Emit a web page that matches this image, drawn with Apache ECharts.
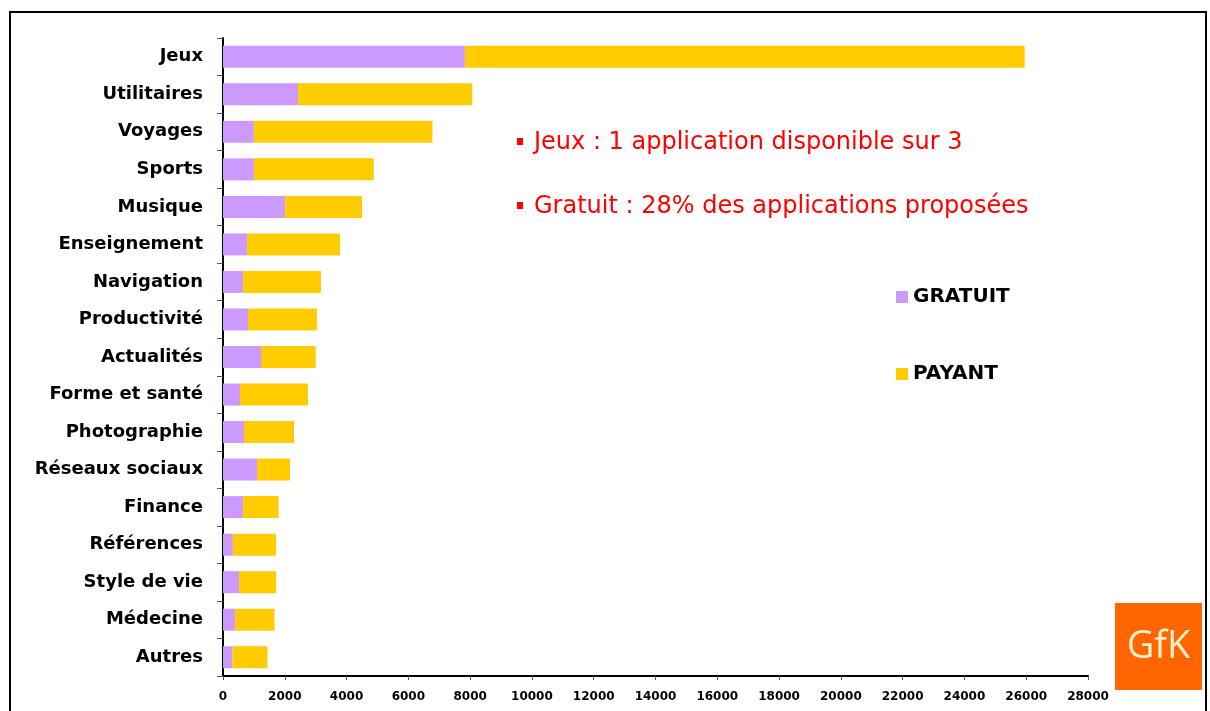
<!DOCTYPE html>
<html><head><meta charset="utf-8">
<script src="https://cdn.jsdelivr.net/npm/echarts@6/dist/echarts.min.js"></script>
<style>html,body{margin:0;padding:0;background:#fff}#c{width:1210px;height:711px}</style>
</head><body><div id="c"></div>
<script>
const categories = ["Jeux","Utilitaires","Voyages","Sports","Musique","Enseignement","Navigation","Productivité","Actualités","Forme et santé","Photographie","Réseaux sociaux","Finance","Références","Style de vie","Médecine","Autres"];
const gratuit = [7830, 2430, 1000, 1000, 2010, 780, 650, 810, 1230, 550, 680, 1100, 650, 320, 520, 390, 310];
const payant  = [18120, 5640, 5780, 3880, 2490, 3010, 2520, 2230, 1770, 2200, 1620, 1070, 1150, 1400, 1200, 1280, 1130];
const xTicks = [0, 28000, 2000];
const notes = ["Jeux : 1 application disponible sur 3", "Gratuit : 28% des applications proposées"];
const seriesNames = ["GRATUIT", "PAYANT"];
const logoText = "GfK";

const chart = echarts.init(document.getElementById('c'), null, {renderer:'canvas'});
chart.setOption({
  animation:false,
  backgroundColor:'#fff',
  grid:{left:223, right:122, top:38, bottom:35, containLabel:false},
  legend:{
    orient:'vertical', left:891, top:282, itemWidth:12, itemHeight:12, itemGap:57,
    icon:'rect', data:seriesNames,
    textStyle:{fontFamily:'DejaVu Sans', fontWeight:'bold', fontSize:20, color:'#000'},
    selectedMode:false
  },
  xAxis:{
    type:'value', min:xTicks[0], max:xTicks[1], interval:xTicks[2],
    splitLine:{show:false},
    axisLine:{show:true, lineStyle:{color:'#000', width:2}},
    axisTick:{show:true, length:4, lineStyle:{color:'#555'}},
    axisLabel:{margin:15, fontFamily:'DejaVu Sans', fontWeight:'bold', fontSize:12, color:'#000', formatter:function(v){return String(v);}}
  },
  yAxis:{
    type:'category', data:categories, inverse:true,
    axisLine:{show:true, lineStyle:{color:'#000', width:2}},
    axisTick:{show:true, length:6, lineStyle:{color:'#555'}},
    axisLabel:{margin:20, padding:[4,0,0,0], fontFamily:'DejaVu Sans', fontWeight:'bold', fontSize:18, color:'#000'}
  },
  series:[
    {name:seriesNames[0], type:'bar', stack:'t', data:gratuit, barWidth:22, itemStyle:{color:'#CC99FF'}},
    {name:seriesNames[1], type:'bar', stack:'t', data:payant, barWidth:22, itemStyle:{color:'#FFCC00'}}
  ],
  graphic:[
    {type:'rect', shape:{x:10, y:12, width:1196, height:710}, style:{fill:'none', stroke:'#000', lineWidth:2}, silent:true, z:-1},
    {type:'rect', shape:{x:517, y:138, width:6, height:7}, style:{fill:'#FF0000'}},
    {type:'text', left:534, top:131, style:{text:notes[0], fill:'#FF0000', font:'24px "DejaVu Sans"'}},
    {type:'rect', shape:{x:517, y:202, width:6, height:7}, style:{fill:'#FF0000'}},
    {type:'text', left:534, top:195, style:{text:notes[1], fill:'#FF0000', font:'24px "DejaVu Sans"'}},
    {type:'rect', shape:{x:1115, y:603, width:87, height:87}, style:{fill:'#FF6600'}, z:10},
    {type:'text', x:1158.5, y:647, z:11, style:{text:logoText, fill:'#FFF0C8', font:'38px "Open Sans"', textAlign:'center', textVerticalAlign:'middle'}}
  ]
});
</script>
</body></html>
